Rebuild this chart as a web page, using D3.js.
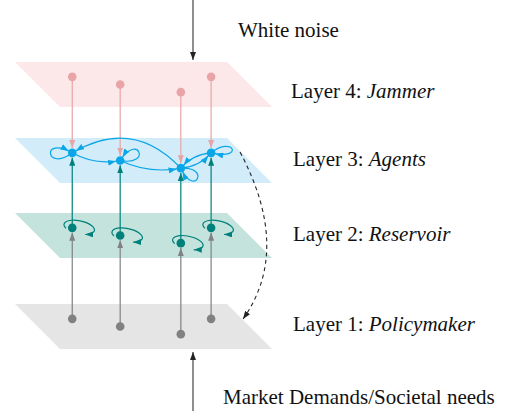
<!DOCTYPE html>
<html>
<head>
<meta charset="utf-8">
<script src="https://cdn.jsdelivr.net/npm/d3@7"></script>
<style>
  body { margin: 0; background: #fff; }
  svg text { font-family: "Liberation Serif", "Times New Roman", serif; font-size: 21px; fill: #111; white-space: pre; }
</style>
</head>
<body>
<div id="chart"></div>
<script>
// layers from bottom to top
var layerIds = [1, 2, 3, 4];
var layerNames = ["Policymaker", "Reservoir", "Agents", "Jammer"];

// where each agent sits inside a plane: u along the plane, v into its depth
var agentU = [0.2, 0.39, 0.64, 0.855];
var agentV = [0.33, 0.5, 0.67, 0.33];

// directed links between the agents of layer 3
var agentLinks = [[0, 1], [1, 2], [2, 0], [2, 3], [3, 2]];

var inputLabel = "White noise";
var demandLabel = "Market Demands/Societal needs";

var width = 507, height = 411;

var svg = d3.select("#chart").append("svg")
    .attr("width", width)
    .attr("height", height);

// scales for the skewed planes
var layerY = d3.scaleOrdinal().domain(layerIds).range([304, 213, 138, 62]);
var uX = d3.scaleLinear().domain([0, 1]).range([15, 227]);
var vD = d3.scaleLinear().domain([0, 1]).range([0, 45]);

var style = {
    1: {plane: "#e5e5e5", node: "#818181"},
    2: {plane: "#c4e3dd", node: "#00807a"},
    3: {plane: "#d2ecf9", node: "#0aa6e8"},
    4: {plane: "#fde8e9", node: "#e8a4a7"}
};
var nodeR = 4.3;

function pt(layer, u, v) {
    return [uX(u) + vD(v), layerY(layer) + vD(v)];
}
function nodePos(layer, i) {
    return pt(layer, agentU[i], agentV[i]);
}

// arrow heads, one per colour
var defs = svg.append("defs");
function marker(id, color, back) {
    defs.append("marker")
        .attr("id", id)
        .attr("viewBox", "0 -3 8 6")
        .attr("markerUnits", "userSpaceOnUse")
        .attr("markerWidth", 8)
        .attr("markerHeight", 6)
        .attr("refX", 8 + back)
        .attr("refY", 0)
        .attr("orient", "auto")
        .append("path")
        .attr("d", "M0,-3L8,0L0,3Z")
        .attr("fill", color);
}
layerIds.forEach(function(l) {
    marker("arr" + l, style[l].node, 0);
    marker("arrc" + l, style[l].node, nodeR);
});
marker("arrk", "#222", 0);

// planes
svg.selectAll(".plane")
    .data(layerIds)
    .enter().append("path")
    .attr("class", "plane")
    .attr("d", function(l) {
        return "M" + [pt(l, 0, 0), pt(l, 1, 0), pt(l, 1, 1), pt(l, 0, 1)].join("L") + "Z";
    })
    .attr("fill", function(l) { return style[l].plane; });

// vertical links between layers
var vertical = [];
agentU.forEach(function(u, i) {
    vertical.push({from: 4, to: 3, i: i, dir: 1});
    vertical.push({from: 2, to: 3, i: i, dir: -1});
    vertical.push({from: 1, to: 2, i: i, dir: -1});
});
svg.selectAll(".vlink")
    .data(vertical)
    .enter().append("line")
    .attr("class", "vlink")
    .attr("x1", function(d) { return nodePos(d.from, d.i)[0]; })
    .attr("y1", function(d) { return nodePos(d.from, d.i)[1]; })
    .attr("x2", function(d) { return nodePos(d.to, d.i)[0]; })
    .attr("y2", function(d) { return nodePos(d.to, d.i)[1] - d.dir * (nodeR + 0.5); })
    .attr("stroke", function(d) { return style[d.from].node; })
    .attr("stroke-width", 1.2)
    .attr("marker-end", function(d) { return "url(#arr" + d.from + ")"; });

// curved links between agents
var bend = {"0-1": 9, "1-2": 10, "2-0": 44, "2-3": 7, "3-2": 7};
function curve(a, b, k) {
    var dx = b[0] - a[0], dy = b[1] - a[1];
    var len = Math.sqrt(dx * dx + dy * dy);
    var cx = (a[0] + b[0]) / 2 - dy / len * k,
        cy = (a[1] + b[1]) / 2 + dx / len * k;
    var p = d3.path();
    p.moveTo(a[0], a[1]);
    p.quadraticCurveTo(cx, cy, b[0], b[1]);
    return p.toString();
}
svg.selectAll(".alink")
    .data(agentLinks)
    .enter().append("path")
    .attr("class", "alink")
    .attr("d", function(d) {
        return curve(nodePos(3, d[0]), nodePos(3, d[1]), bend[d[0] + "-" + d[1]]);
    })
    .attr("fill", "none")
    .attr("stroke", style[3].node)
    .attr("stroke-width", 1.2)
    .attr("marker-end", "url(#arrc3)");

// self loops of the agents (control point offsets)
var agentLoop = [
    [[-26, 20], [-32, -18]],
    [[32, 6], [18, -28]],
    [[30, -2], [14, 30]],
    [[22, -18], [34, 8]]
];
svg.selectAll(".aloop")
    .data(agentU)
    .enter().append("path")
    .attr("class", "aloop")
    .attr("d", function(u, i) {
        var c = nodePos(3, i), o = agentLoop[i];
        var p = d3.path();
        p.moveTo(c[0], c[1]);
        p.bezierCurveTo(c[0] + o[0][0], c[1] + o[0][1], c[0] + o[1][0], c[1] + o[1][1], c[0], c[1]);
        return p.toString();
    })
    .attr("fill", "none")
    .attr("stroke", style[3].node)
    .attr("stroke-width", 1.2)
    .attr("marker-end", "url(#arrc3)");

// self loops of the reservoir: tilted ellipse arcs
function ellPt(cx, cy, rx, ry, rot, a) {
    var c = Math.cos(rot), s = Math.sin(rot);
    var px = rx * Math.cos(a), py = ry * Math.sin(a);
    return [cx + px * c - py * s, cy + px * s + py * c];
}
svg.selectAll(".rloop")
    .data(agentU)
    .enter().append("path")
    .attr("class", "rloop")
    .attr("d", function(u, i) {
        var c = nodePos(2, i);
        var cx = c[0] + 7, cy = c[1] - 0.5, rx = 15.5, ry = 6.5, rot = 12 * Math.PI / 180;
        var s = ellPt(cx, cy, rx, ry, rot, 145 * Math.PI / 180),
            e = ellPt(cx, cy, rx, ry, rot, 62 * Math.PI / 180);
        return "M" + s + "A" + rx + "," + ry + " 12 1 1 " + e;
    })
    .attr("fill", "none")
    .attr("stroke", style[2].node)
    .attr("stroke-width", 1.2)
    .attr("marker-end", "url(#arr2)");

// nodes
var nodes = [];
layerIds.forEach(function(l) {
    agentU.forEach(function(u, i) { nodes.push({layer: l, i: i}); });
});
svg.selectAll(".node")
    .data(nodes)
    .enter().append("circle")
    .attr("class", "node")
    .attr("cx", function(d) { return nodePos(d.layer, d.i)[0]; })
    .attr("cy", function(d) { return nodePos(d.layer, d.i)[1]; })
    .attr("r", nodeR)
    .attr("fill", function(d) { return style[d.layer].node; });

// dashed feedback from agents to policymaker
var fb = d3.path();
fb.moveTo(240, 152);
fb.quadraticCurveTo(292, 250, 243, 319);
svg.append("path")
    .attr("d", fb.toString())
    .attr("fill", "none")
    .attr("stroke", "#222")
    .attr("stroke-width", 1.1)
    .attr("stroke-dasharray", "4,3.5")
    .attr("marker-end", "url(#arrk)");

// external inputs
svg.append("line")
    .attr("x1", 193).attr("y1", 0).attr("x2", 193).attr("y2", 60)
    .attr("stroke", "#444").attr("stroke-width", 1.2)
    .attr("marker-end", "url(#arrk)");
svg.append("line")
    .attr("x1", 193).attr("y1", height).attr("x2", 193).attr("y2", 352)
    .attr("stroke", "#444").attr("stroke-width", 1.2)
    .attr("marker-end", "url(#arrk)");

svg.append("text").attr("x", 238).attr("y", 37).text(inputLabel);
svg.append("text").attr("x", 223).attr("y", 404).text(demandLabel);

// layer labels
var labelY = {1: 331, 2: 241, 3: 166, 4: 98};
var labels = svg.selectAll(".label")
    .data(layerIds)
    .enter().append("text")
    .attr("class", "label")
    .attr("x", function(l) { return l == 4 ? 291 : 293; })
    .attr("y", function(l) { return labelY[l]; });
labels.append("tspan").text(function(l) { return "Layer " + l + ": "; });
labels.append("tspan")
    .style("font-style", "italic")
    .text(function(l, i) { return layerNames[i]; });
</script>
</body>
</html>
